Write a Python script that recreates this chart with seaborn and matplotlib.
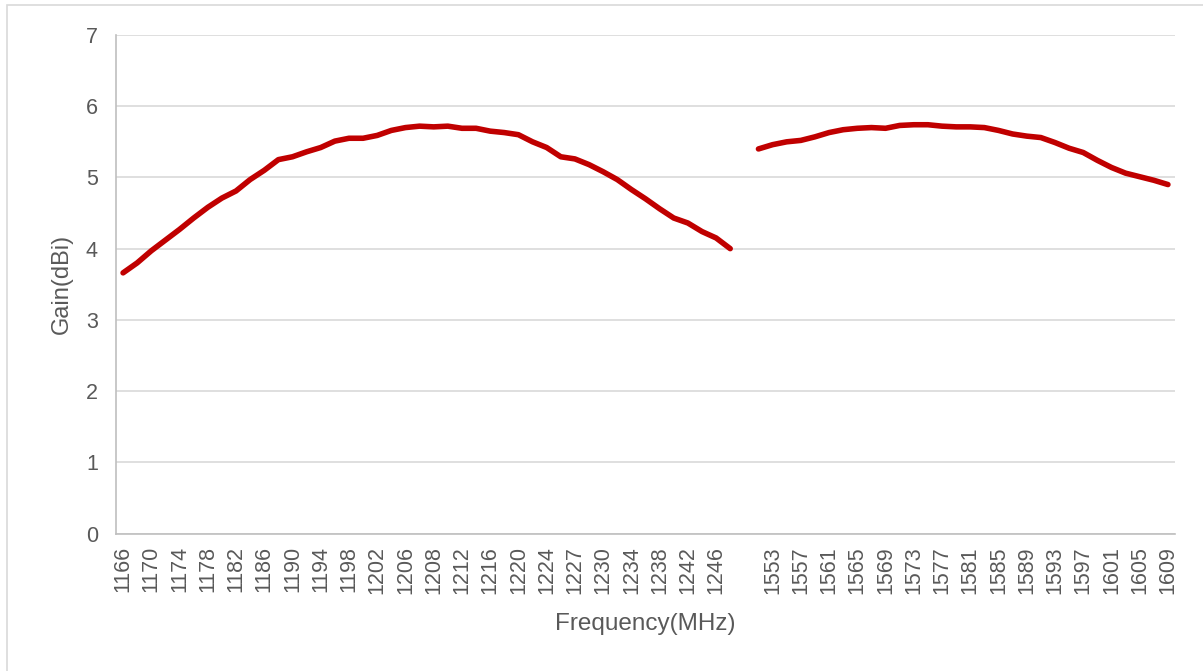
import numpy as np
import pandas as pd
import matplotlib
matplotlib.use("Agg")
import matplotlib.pyplot as plt
from matplotlib.patches import Rectangle
import seaborn as sns

# ---------------- data ----------------
freq_l1 = [1166, 1168, 1170, 1172, 1174, 1176, 1178, 1180, 1182, 1184, 1186,
           1188, 1190, 1192, 1194, 1196, 1198, 1200, 1202, 1204, 1206, 1207,
           1208, 1210, 1212, 1214, 1216, 1218, 1220, 1222, 1224, 1226, 1227,
           1228, 1230, 1232, 1234, 1236, 1238, 1240, 1242, 1244, 1246, 1248]
gain_l1 = [3.66, 3.80, 3.97, 4.12, 4.27, 4.43, 4.58, 4.71, 4.81, 4.97, 5.10,
           5.25, 5.29, 5.36, 5.42, 5.51, 5.55, 5.55, 5.59, 5.66, 5.70, 5.72,
           5.71, 5.72, 5.69, 5.69, 5.65, 5.63, 5.60, 5.50, 5.42, 5.29, 5.26,
           5.18, 5.08, 4.97, 4.83, 4.70, 4.56, 4.43, 4.36, 4.24, 4.15, 4.00]

freq_l2 = [1551, 1553, 1555, 1557, 1559, 1561, 1563, 1565, 1567, 1569, 1571,
           1573, 1575, 1577, 1579, 1581, 1583, 1585, 1587, 1589, 1591, 1593,
           1595, 1597, 1599, 1601, 1603, 1605, 1607, 1609]
gain_l2 = [5.40, 5.46, 5.50, 5.52, 5.57, 5.63, 5.67, 5.69, 5.70, 5.69, 5.73,
           5.74, 5.74, 5.72, 5.71, 5.71, 5.70, 5.66, 5.61, 5.58, 5.56, 5.49,
           5.41, 5.35, 5.24, 5.14, 5.06, 5.01, 4.96, 4.90]

# category axis: band 1, one empty category, band 2
categories = [str(f) for f in freq_l1] + [""] + [str(f) for f in freq_l2]
pos = np.arange(len(categories))
n1 = len(freq_l1)
df1 = pd.DataFrame({"pos": pos[:n1], "gain": gain_l1})
df2 = pd.DataFrame({"pos": pos[n1 + 1:], "gain": gain_l2})

# ---------------- style ----------------
sns.set_theme(style="white")
plt.rcParams["font.family"] = ["Liberation Sans", "DejaVu Sans"]
txt = "#595959"
grid_c = "#d9d9d9"
axis_c = "#bfbfbf"
red = "#c00000"

fig = plt.figure(figsize=(12.03, 6.71), dpi=100)
ax = fig.add_axes([116 / 1203, 1 - 533.5 / 671, (1175 - 116) / 1203, (533.5 - 35) / 671])

for d in (df1, df2):
    sns.lineplot(data=d, x="pos", y="gain", ax=ax, color=red, linewidth=4.0,
                 solid_capstyle="round", solid_joinstyle="round", zorder=3)

ax.set_xlim(-0.5, len(categories) - 0.5)
ax.set_ylim(0, 7)
ax.set_yticks(range(0, 8))
ax.set_xticks(pos[::2])
ax.set_xticklabels([categories[i] for i in pos[::2]], rotation=90)

ax.yaxis.grid(True, color=grid_c, linewidth=1.2)
ax.xaxis.grid(False)
ax.set_axisbelow(True)
for s in ("top", "right"):
    ax.spines[s].set_visible(False)
for s in ("left", "bottom"):
    ax.spines[s].set_color(axis_c)
    ax.spines[s].set_linewidth(1.2)

ax.tick_params(axis="both", length=0, labelsize=15.5, colors=txt)
ax.tick_params(axis="y", pad=13)
ax.tick_params(axis="x", pad=9)

ax.set_xlabel("Frequency(MHz)", fontsize=17.5, color=txt, labelpad=14)
ax.set_ylabel("Gain(dBi)", fontsize=17, color=txt, labelpad=9)

# chart-area border
fig.patches.append(Rectangle((7 / 1203, -0.05), 1.2, 1 - 5 / 671 + 0.05,
                             transform=fig.transFigure, fill=False,
                             edgecolor=grid_c, linewidth=1.2, zorder=0))

fig.savefig("out.png", dpi=100)
